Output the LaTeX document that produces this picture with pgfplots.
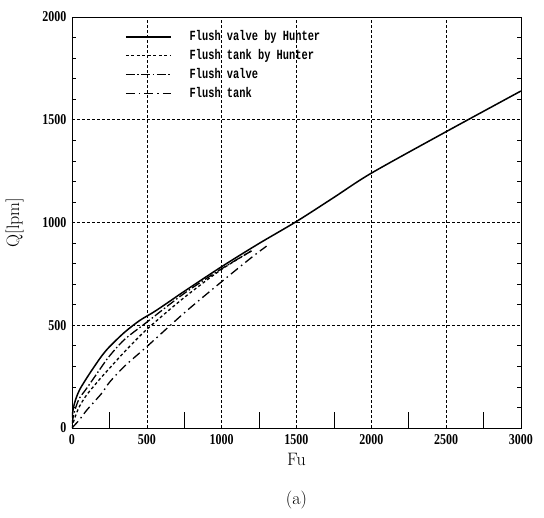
\documentclass[border=0pt]{standalone}
\usepackage{pgfplots}
\pgfplotsset{compat=1.18}
\usepackage{fontspec}
\newfontfamily\tickfont[FakeStretch=0.8,UprightFont=* Bold]{Liberation Serif}
\newfontfamily\legfont[FakeStretch=0.74,UprightFont=* Bold]{Liberation Mono}
\begin{document}
\begin{tikzpicture}
\begin{axis}[name=ax,
  scale only axis, width=449pt, height=411pt,
  xmin=0, xmax=3000, ymin=0, ymax=2000,
  xtick={0,500,...,3000}, ytick={0,500,...,2000},
  minor y tick num=4, minor tick length=4pt, major tick length=0pt,
  tick align=inside,
  grid=major, major grid style={densely dashed, line width=0.6pt, black},
  axis line style={line width=0.9pt},
  every tick/.style={black, line width=0.6pt},
  /pgf/number format/assume math mode=true,
  /pgf/number format/1000 sep={},
  tick label style={font=\tickfont\fontsize{15}{15}\selectfont},
  xticklabel style={yshift=-3pt},
  yticklabel style={xshift=-2pt},
  xlabel={Fu}, ylabel={Q[lpm]},
  label style={font=\fontsize{18}{18}\selectfont},
  xlabel style={yshift=-2pt},
  ylabel style={yshift=12pt},
  legend style={at={(axis description cs:0.118,0.968)}, anchor=north west,
    draw=none, fill=none, inner sep=0pt, row sep=6pt,
    font=\legfont\fontsize{14}{14}\selectfont,
    nodes={inner sep=0pt, text height=10pt, text depth=3pt}},
  legend cell align=left,
  legend image code/.code={\draw[#1] (0pt,0pt) -- (45pt,0pt); \path (63pt,0pt);},
]
\addplot[black, line width=1.5pt, smooth] coordinates {
(0,50) (10,100) (25,140) (50,185) (100,245) (150,300) (200,352) (250,395)
(350,465) (450,522) (550,566) (650,615) (750,665) (1000,785) (1250,898)
(1500,1005) (1750,1122) (2000,1240) (2500,1442) (3000,1640)};
\addlegendentry{Flush valve by Hunter}
\addplot[black, line width=1.3pt, dash pattern=on 3pt off 2.5pt, smooth] coordinates {
(0,0) (10,30) (25,62) (50,105) (100,163) (200,250) (250,290) (350,370)
(500,480) (750,635) (1000,772) (1200,862)};
\addlegendentry{Flush tank by Hunter}
\addplot[black, line width=1.3pt, dash pattern=on 9pt off 2.5pt on 1.5pt off 2.5pt, smooth] coordinates {
(0,20) (10,60) (25,100) (50,145) (100,195) (200,300) (250,350) (350,430)
(500,515) (750,655) (1000,775) (1200,862)};
\addlegendentry{Flush valve}
\addplot[black, line width=1.3pt, dash pattern=on 9pt off 4pt on 1.5pt off 4pt, smooth] coordinates {
(0,0) (25,20) (50,40) (100,88) (200,170) (250,222) (350,300) (500,396)
(750,560) (1000,712) (1200,830) (1300,885)};
\addlegendentry{Flush tank}
\end{axis}
\begin{axis}[
  scale only axis, width=449pt, height=411pt,
  xmin=0, xmax=3000, ymin=0, ymax=2000,
  axis lines=none, xtick=\empty, ytick=\empty,
]
\addplot[draw=none] coordinates {(0,0)};
\draw[line width=0.6pt] \foreach \x in {250,750,...,2750} {(axis cs:\x,0) -- ++(0,16pt)};
\end{axis}
\node[font=\fontsize{18}{18}\selectfont, anchor=base] at ([yshift=-77pt]ax.south) {(a)};
\pgfresetboundingbox
\useasboundingbox ([xshift=-72pt,yshift=-90pt]ax.south west) rectangle ([xshift=23pt,yshift=17pt]ax.north east);
\end{tikzpicture}
\end{document}
